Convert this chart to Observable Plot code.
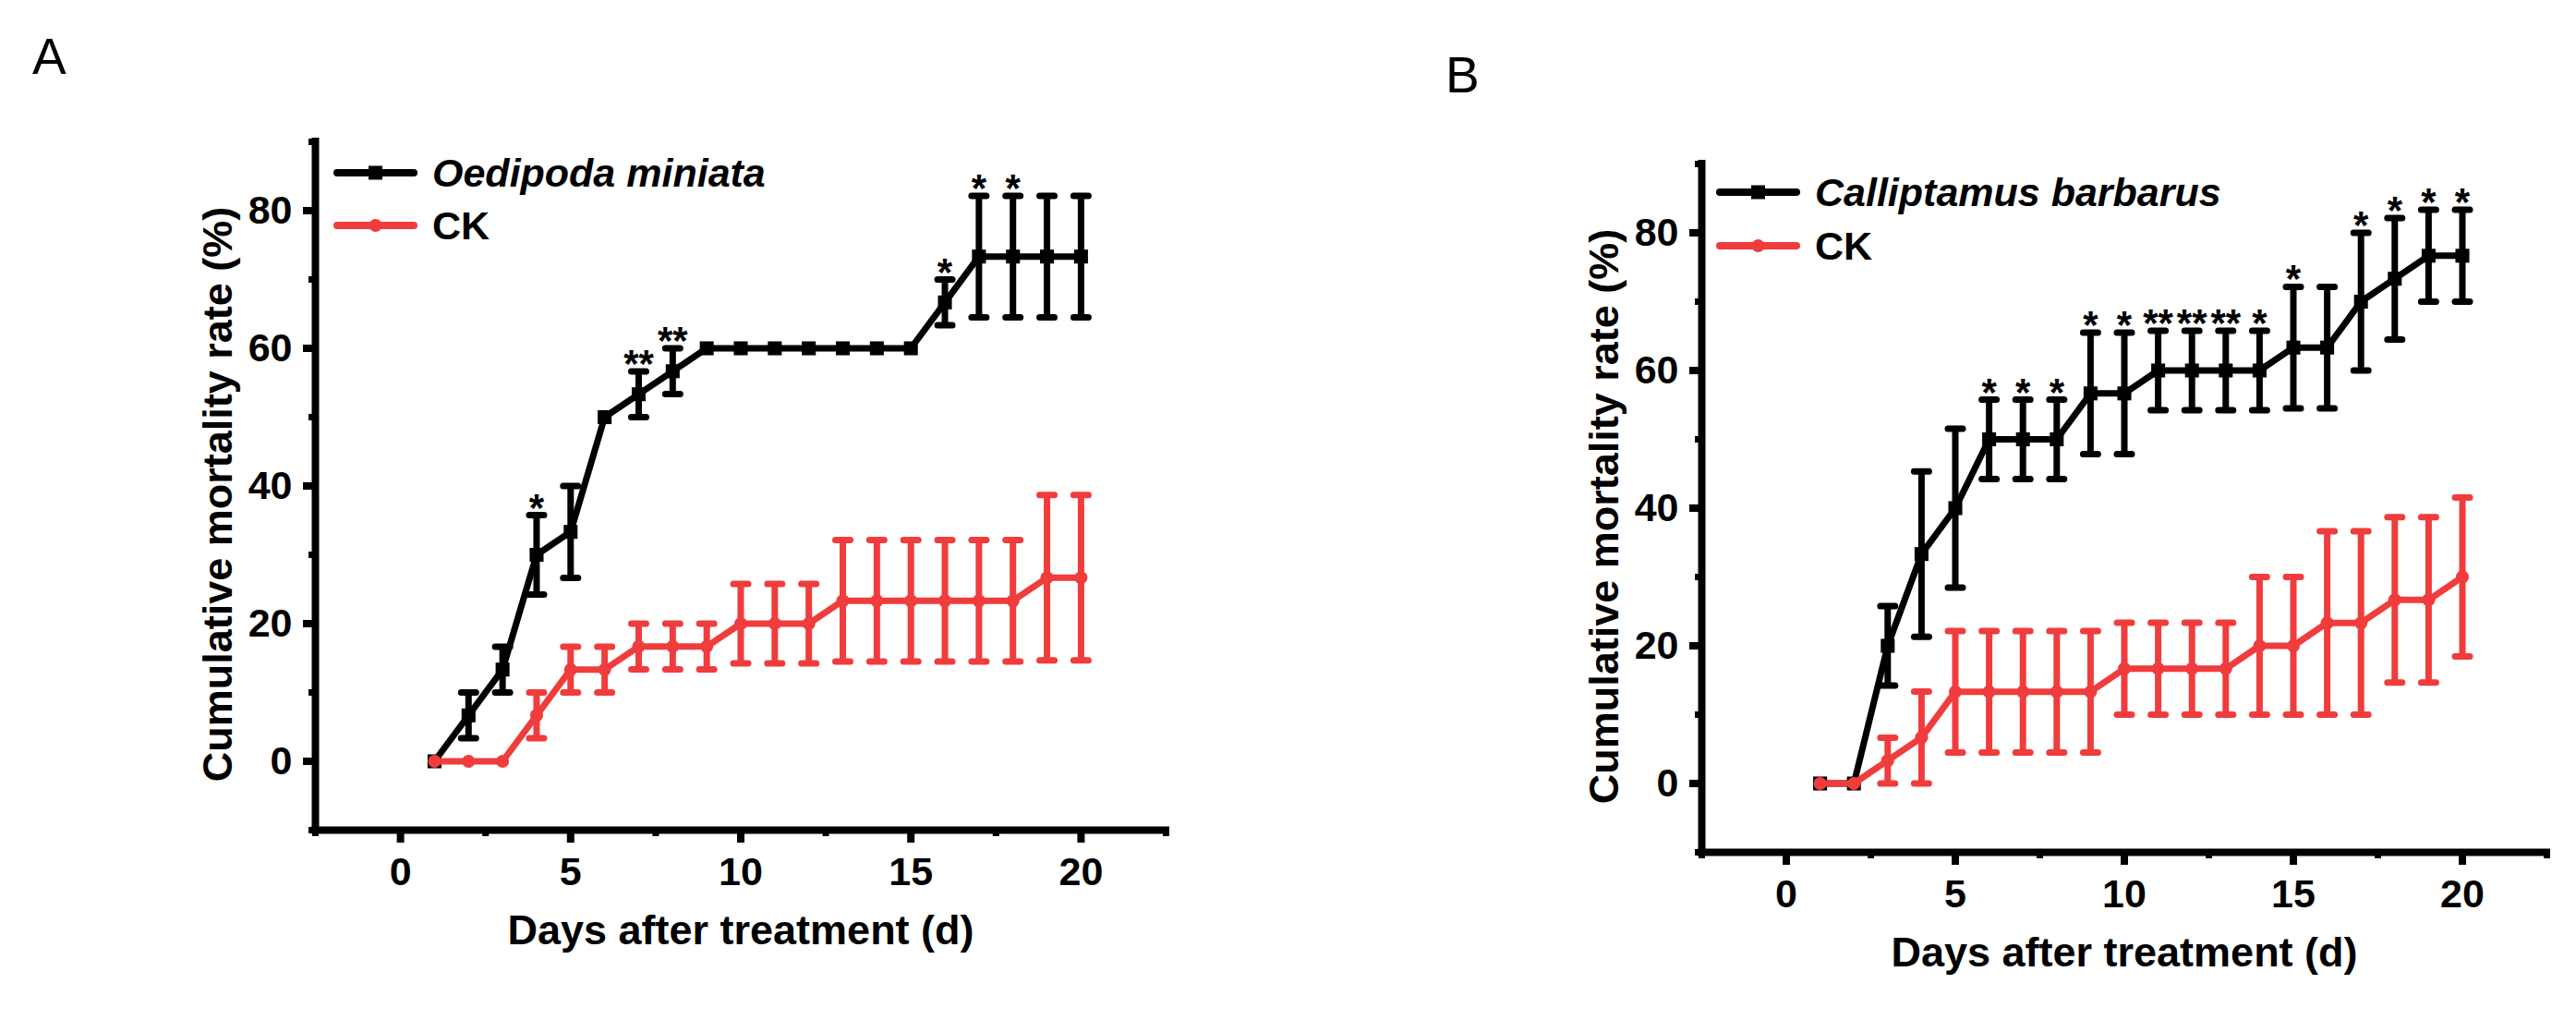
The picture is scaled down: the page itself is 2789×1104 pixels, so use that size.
<!DOCTYPE html>
<html>
<head>
<meta charset="utf-8">
<script src="https://cdn.jsdelivr.net/npm/d3@7"></script>
<script src="https://cdn.jsdelivr.net/npm/@observablehq/plot@0.6"></script>
<style>
  html, body { margin: 0; padding: 0; background: #fff; }
  #page { position: relative; width: 2789px; height: 1104px; overflow: hidden; background: #fff; }
</style>
</head>
<body>
<div id="page"></div>
<script>
// Days after treatment
const days = [1, 2, 3, 4, 5, 6, 7, 8, 9, 10, 11, 12, 13, 14, 15, 16, 17, 18, 19, 20];

// Panel A: Oedipoda miniata vs CK (cumulative mortality %, mean and SE)
const oedipodaMean = [0, 6.67, 13.33, 30, 33.33, 50, 53.33, 56.67, 60, 60, 60, 60, 60, 60, 60, 66.67, 73.33, 73.33, 73.33, 73.33];
const oedipodaErr  = [0, 3.33, 3.33, 5.77, 6.67, 0, 3.33, 3.33, 0, 0, 0, 0, 0, 0, 0, 3.33, 8.82, 8.82, 8.82, 8.82];
const oedipodaSig  = ["", "", "", "*", "", "", "**", "**", "", "", "", "", "", "", "", "*", "*", "*", "", ""];
const ckAMean = [0, 0, 0, 6.67, 13.33, 13.33, 16.67, 16.67, 16.67, 20, 20, 20, 23.33, 23.33, 23.33, 23.33, 23.33, 23.33, 26.67, 26.67];
const ckAErr  = [0, 0, 0, 3.33, 3.33, 3.33, 3.33, 3.33, 3.33, 5.77, 5.77, 5.77, 8.82, 8.82, 8.82, 8.82, 8.82, 8.82, 12.02, 12.02];

// Panel B: Calliptamus barbarus vs CK
const calliptamusMean = [0, 0, 20, 33.33, 40, 50, 50, 50, 56.67, 56.67, 60, 60, 60, 60, 63.33, 63.33, 70, 73.33, 76.67, 76.67];
const calliptamusErr  = [0, 0, 5.77, 12.02, 11.55, 5.77, 5.77, 5.77, 8.82, 8.82, 5.77, 5.77, 5.77, 5.77, 8.82, 8.82, 10, 8.82, 6.67, 6.67];
const calliptamusSig  = ["", "", "", "", "", "*", "*", "*", "*", "*", "**", "**", "**", "*", "*", "", "*", "*", "*", "*"];
const ckBMean = [0, 0, 3.33, 6.67, 13.33, 13.33, 13.33, 13.33, 13.33, 16.67, 16.67, 16.67, 16.67, 20, 20, 23.33, 23.33, 26.67, 26.67, 30];
const ckBErr  = [0, 0, 3.33, 6.67, 8.82, 8.82, 8.82, 8.82, 8.82, 6.67, 6.67, 6.67, 6.67, 10, 10, 13.33, 13.33, 12.02, 12.02, 11.55];

// Axes
const xDomain = [-2.5, 22.5];
const yDomain = [-10, 90];
const xMajorTicks = [0, 5, 10, 15, 20];
const xMinorTicks = [-2.5, 2.5, 7.5, 12.5, 17.5, 22.5];
const yMajorTicks = [0, 20, 40, 60, 80];
const yMinorTicks = [-10, 10, 30, 50, 70, 90];
const xTitle = "Days after treatment (d)";
const yTitle = "Cumulative mortality rate (%)";
const legendA = ["Oedipoda miniata", "CK"];
const legendB = ["Calliptamus barbarus", "CK"];
const panelLabels = ["A", "B"];

const fontFamily = 'Arial, "Liberation Sans", sans-serif';
const black = "#000000";
const red = "#f03c3c";

// horizontal bar used as an error-bar cap
const capSymbol = {
  draw(context, size) {
    const h = Math.sqrt(size / Math.PI);
    context.moveTo(-h, 0);
    context.lineTo(h, 0);
  }
};

function rowsOf(mean, err, sig) {
  return days.map((day, i) => ({day, v: mean[i], e: err[i], s: sig ? sig[i] : ""}));
}

function seriesMarks(rows, color, symbol, r) {
  const withErr = rows.filter(d => d.e > 0);
  const cap = {symbol: capSymbol, r: 8, stroke: color, strokeWidth: 7, strokeLinecap: "round", fill: "none"};
  return [
    Plot.ruleX(withErr, {x: "day", y1: d => d.v - d.e, y2: d => d.v + d.e, stroke: color, strokeWidth: 7}),
    Plot.dot(withErr, {x: "day", y: d => d.v + d.e, ...cap}),
    Plot.dot(withErr, {x: "day", y: d => d.v - d.e, ...cap}),
    Plot.line(rows, {x: "day", y: "v", stroke: color, strokeWidth: 7}),
    Plot.dot(rows, {x: "day", y: "v", symbol, r, fill: color, stroke: null})
  ];
}

function panel({treated, control, width, left, margin}) {
  const svg = Plot.plot({
    width,
    height: 1104,
    marginLeft: margin.left,
    marginRight: margin.right,
    marginTop: margin.top,
    marginBottom: margin.bottom,
    x: {domain: xDomain, axis: null},
    y: {domain: yDomain, axis: null},
    style: {fontFamily, fontWeight: "bold", background: "transparent", overflow: "visible", color: black},
    marks: [
      // frame: left and bottom axis lines
      Plot.ruleX([xDomain[0]], {stroke: black, strokeWidth: 8, strokeLinecap: "square"}),
      Plot.ruleY([yDomain[0]], {stroke: black, strokeWidth: 8, strokeLinecap: "square"}),
      Plot.axisX({ticks: xMajorTicks, tickSize: 14, tickPadding: 15, strokeWidth: 8, fontSize: 43, fontWeight: "bold", label: null}),
      Plot.axisX({ticks: xMinorTicks, tickSize: 7, strokeWidth: 7, tickFormat: () => "", label: null}),
      Plot.axisY({ticks: yMajorTicks, tickSize: 13, tickPadding: 12, strokeWidth: 8, fontSize: 43, fontWeight: "bold", label: null}),
      Plot.axisY({ticks: yMinorTicks, tickSize: 7, strokeWidth: 7, tickFormat: () => "", label: null}),
      Plot.text([xTitle], {text: d => d, frameAnchor: "bottom", textAnchor: "middle", lineAnchor: "bottom", dy: 123, fontSize: 45, fontWeight: "bold", fill: black}),
      Plot.text([yTitle], {text: d => d, frameAnchor: "left", textAnchor: "middle", rotate: -90, lineAnchor: "bottom", dx: -91, dy: 9, fontSize: 45, fontWeight: "bold", fill: black}),
      ...seriesMarks(treated, black, "square", 8.5),
      Plot.text(treated.filter(d => d.s), {x: "day", y: d => d.v + d.e, text: "s", lineAnchor: "bottom", dy: 6, fontSize: 42, fill: black}),
      ...seriesMarks(control, red, "circle", 7)
    ]
  });
  svg.style.position = "absolute";
  svg.style.left = left + "px";
  svg.style.top = "0px";
  document.getElementById("page").appendChild(svg);
}

panel({
  treated: rowsOf(oedipodaMean, oedipodaErr, oedipodaSig),
  control: rowsOf(ckAMean, ckAErr),
  width: 1394, left: 0,
  margin: {left: 341, right: 132, top: 153, bottom: 206}
});

panel({
  treated: rowsOf(calliptamusMean, calliptamusErr, calliptamusSig),
  control: rowsOf(ckBMean, ckBErr),
  width: 1395, left: 1394,
  margin: {left: 448, right: 32, top: 177, bottom: 182}
});

// Panel letters and legends
const overlay = d3.select("#page").append("svg")
  .attr("width", 2789).attr("height", 1104)
  .style("position", "absolute").style("left", "0px").style("top", "0px")
  .style("font-family", fontFamily);

overlay.selectAll("text.panel-label")
  .data([{t: panelLabels[0], x: 35, y: 80}, {t: panelLabels[1], x: 1565, y: 100}])
  .join("text")
  .attr("class", "panel-label")
  .attr("x", d => d.x).attr("y", d => d.y)
  .attr("font-size", 55)
  .attr("fill", black)
  .text(d => d.t);

function legend(x0, labels, ys) {
  const items = [
    {label: labels[0], color: black, shape: "square", italic: true, y: ys[0]},
    {label: labels[1], color: red, shape: "circle", italic: false, y: ys[1]}
  ];
  const g = overlay.append("g");
  const row = g.selectAll("g").data(items).join("g");
  row.append("line")
    .attr("x1", x0).attr("x2", x0 + 83)
    .attr("y1", d => d.y).attr("y2", d => d.y)
    .attr("stroke", d => d.color).attr("stroke-width", 8).attr("stroke-linecap", "round");
  row.filter(d => d.shape === "square").append("rect")
    .attr("x", x0 + 41.5 - 7.5).attr("y", d => d.y - 7.5)
    .attr("width", 15).attr("height", 15).attr("fill", d => d.color);
  row.filter(d => d.shape === "circle").append("circle")
    .attr("cx", x0 + 41.5).attr("cy", d => d.y).attr("r", 7).attr("fill", d => d.color);
  row.append("text")
    .attr("x", x0 + 103).attr("y", d => d.y + 15)
    .attr("font-size", 43).attr("font-weight", "bold")
    .attr("font-style", d => d.italic ? "italic" : "normal")
    .attr("fill", black)
    .text(d => d.label);
}

legend(365, legendA, [187, 244]);
legend(1862, legendB, [208, 266]);
</script>
</body>
</html>
